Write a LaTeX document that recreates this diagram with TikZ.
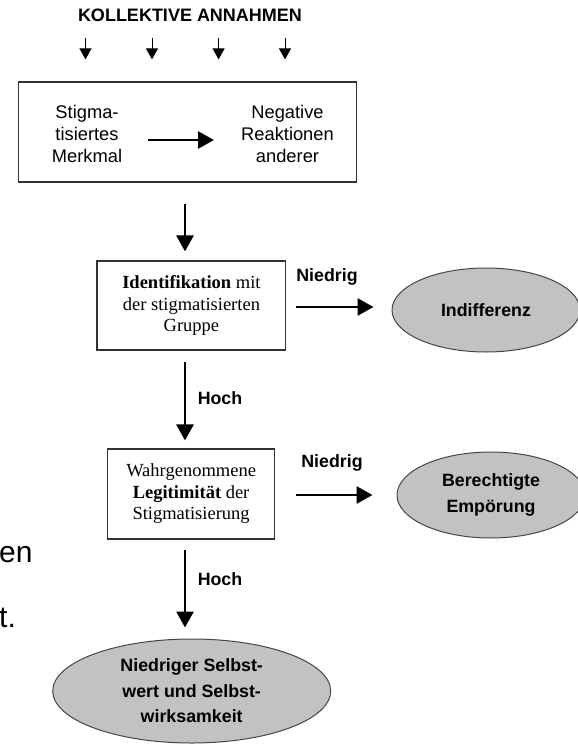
\documentclass[tikz,border=0pt]{standalone}
\usepackage{fontspec}
\setmainfont{Liberation Serif}
\setsansfont{Liberation Sans}
\usetikzlibrary{arrows.meta,shapes.geometric}
\definecolor{ellfill}{RGB}{194,194,194}
\definecolor{boxedge}{RGB}{50,50,50}
\definecolor{elledge}{RGB}{70,70,70}
\begin{document}
\begin{tikzpicture}[x=1pt,y=-1pt,
  sftext/.style={font=\sffamily\fontsize{18.3}{22}\selectfont, align=center, inner sep=0pt},
  sfbold/.style={font=\sffamily\bfseries\fontsize{17.8}{25}\selectfont, align=center, inner sep=0pt},
  sfbig/.style={font=\sffamily\fontsize{30}{34}\selectfont, inner sep=0pt},
  boxst/.style={draw=boxedge, line width=1.2pt, rectangle, inner sep=0pt, align=center,
                font=\rmfamily\fontsize{18.5}{21.5}\selectfont},
  ellst/.style={ellipse, draw=elledge, line width=1pt, fill=ellfill, inner sep=0pt, align=center,
                font=\sffamily\bfseries\fontsize{17.8}{25.5}\selectfont},
  bigarrow/.style={line width=2.8pt, -{Triangle[length=16pt,width=17pt]}},
  smallarrow/.style={line width=1pt, -{Triangle[length=11pt,width=12pt]}}
]
\useasboundingbox (0,0) rectangle (578,744);
\clip (0,0) rectangle (578,744);

% title and first box
\node[sfbold, font=\sffamily\bfseries\fontsize{18}{22}\selectfont] (title) at (190,15) {KOLLEKTIVE ANNAHMEN};
\node[boxst, minimum width=338.4pt, minimum height=100pt] (box1) at (187.6,132) {};
\node[sftext] (stig) at (87,134) {Stigma-\\tisiertes\\Merkmal};
\node[sftext] (neg) at (287.5,134) {Negative\\Reaktionen\\anderer};

% second and third boxes
\node[boxst, minimum width=188.7pt, minimum height=89pt] (box2) at (191.4,305.5)
  {\textbf{Identifikation} mit\\der stigmatisierten\\Gruppe};
\node[boxst, minimum width=167pt, minimum height=90pt] (box3) at (191.1,494)
  {Wahrgenommene\\\textbf{Legitimität} der\\Stigmatisierung};

% ellipses
\node[ellst, minimum width=188pt, minimum height=84pt] (ell1) at (486,310) {Indifferenz};
\node[ellst, minimum width=188pt, minimum height=86pt] (ell2) at (491,495) {Berechtigte\\Empörung};
\node[ellst, minimum width=278pt, minimum height=104pt] (ell3) at (191.7,691)
  {Niedriger Selbst-\\wert und Selbst-\\wirksamkeit};

% labels
\node[sfbold] (n1) at (327,277) {Niedrig};
\node[sfbold] (n2) at (332,463) {Niedrig};
\node[sfbold] (h1) at (220,398) {Hoch};
\node[sfbold] (h2) at (220,579) {Hoch};

% fragments of background text
\node[sfbig, anchor=base west] (en) at (-1,562) {en};
\node[sfbig, anchor=base west] (tdot) at (-1,627) {t.};

% small arrows from title
\foreach \x in {85.5,152,218.6,285}
  \draw[smallarrow, shorten <=16.4pt, shorten >=22pt] (title.south -| \x,0) -- (box1.north -| \x,0);

% arrow inside first box
\draw[bigarrow, shorten <=25.5pt, shorten >=27pt] ([yshift=-6pt]stig.east) -- ([yshift=-6pt]neg.west);

% vertical arrows
\draw[bigarrow, shorten <=21pt, shorten >=9pt] (box1.south -| 185,0) -- (box2.north -| 185,0);
\draw[bigarrow, shorten <=11pt, shorten >=8pt] (box2.south -| 185,0) -- (box3.north -| 185,0);
\draw[bigarrow, shorten <=10pt, shorten >=11pt] (box3.south -| 185,0) -- (ell3.north -| 185,0);

% horizontal arrows
\draw[bigarrow, shorten <=9.3pt, shorten >=18pt] (box2.east |- 0,307) -- (ell1.west |- 0,307);
\draw[bigarrow, shorten <=20.4pt, shorten >=24pt] (box3.east |- 0,495) -- (ell2.west |- 0,495);
\end{tikzpicture}
\end{document}
